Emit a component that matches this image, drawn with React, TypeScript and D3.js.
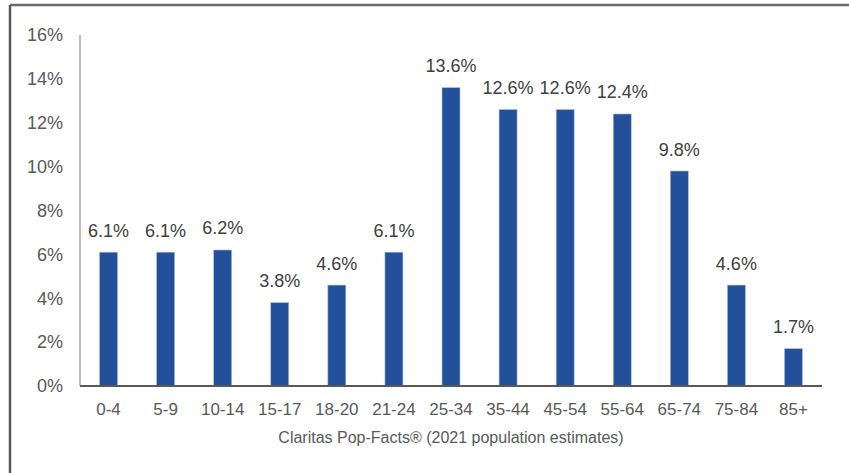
import React from "react";
import * as d3 from "d3";

const categories = ["0-4", "5-9", "10-14", "15-17", "18-20", "21-24", "25-34", "35-44", "45-54", "55-64", "65-74", "75-84", "85+"];
const values = [6.1, 6.1, 6.2, 3.8, 4.6, 6.1, 13.6, 12.6, 12.6, 12.4, 9.8, 4.6, 1.7];
const yTicks = [0, 2, 4, 6, 8, 10, 12, 14, 16];
const sourceNote = "Claritas Pop-Facts® (2021 population estimates)";

export default function App() {
  const W = 849, H = 473;
  const left = 80, right = 822, top = 35, bottom = 386;
  const x = d3.scaleBand<string>().domain(categories).range([left, right]).paddingInner(0.685).paddingOuter(0.3425);
  const y = d3.scaleLinear().domain([0, 16]).range([bottom, top]);
  const font = "'Liberation Sans', Arial, sans-serif";
  const textColor = "#595959";
  return (
    <svg width={W} height={H} style={{ position: "absolute", left: 0, top: 0, background: "#fff" }} fontFamily={font}>
      <rect x={0} y={0} width={W} height={H} fill="#fff" />
      <line x1={10} y1={5} x2={W} y2={5} stroke="#6b6b6b" strokeWidth={2.5} />
      <line x1={10} y1={5} x2={10} y2={H} stroke="#595959" strokeWidth={2.5} />
      <line x1={left} y1={top} x2={left} y2={bottom} stroke="#7f7f7f" strokeWidth={1} />
      {yTicks.map((t) => (
        <text key={t} x={63} y={y(t)} dy="0.35em" textAnchor="end" fontSize={18} fill={textColor}>
          {t}%
        </text>
      ))}
      {categories.map((c, i) => {
        const bx = x(c)!;
        const by = y(values[i]);
        return (
          <g key={c}>
            <rect x={bx} y={by} width={x.bandwidth()} height={bottom - by} fill="#23509a" stroke="#a9bde0" strokeWidth={0.6} />
            <text x={bx + x.bandwidth() / 2} y={by - 15.5} textAnchor="middle" fontSize={18} fill="#404040">
              {values[i].toFixed(1)}%
            </text>
            <text x={bx + x.bandwidth() / 2} y={415} textAnchor="middle" fontSize={17} fill={textColor}>
              {c}
            </text>
          </g>
        );
      })}
      <line x1={left} y1={bottom} x2={right} y2={bottom} stroke="#595959" strokeWidth={2} />
      <text x={451} y={443} textAnchor="middle" fontSize={16} fill={textColor}>
        {sourceNote}
      </text>
    </svg>
  );
}
